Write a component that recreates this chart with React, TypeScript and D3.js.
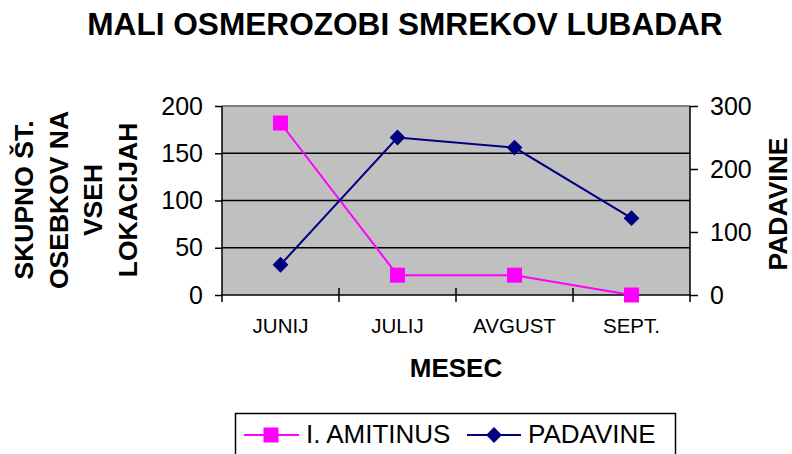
import { useEffect, useRef } from 'react'
import * as d3 from 'd3'

const months = ['JUNIJ', 'JULIJ', 'AVGUST', 'SEPT.']
const amitinus = [182, 21, 21, 0]
const padavine = [48, 250, 234, 122]
const leftTicks = [0, 50, 100, 150, 200]
const rightTicks = [0, 100, 200, 300]
const leftTitle = ['SKUPNO ŠT.', 'OSEBKOV NA', 'VSEH', 'LOKACIJAH']

const FONT = '"Liberation Sans", Arial, sans-serif'

export default function App() {
  const svgRef = useRef<SVGSVGElement>(null)

  useEffect(() => {
    const el = svgRef.current
    if (!el) return
    const svg = d3.select(el)
    svg.selectAll('*').remove()

    const left = 222, right = 690, top = 106, bottom = 295

    const x = d3.scaleBand<string>().domain(months).range([left, right])
    const yL = d3.scaleLinear().domain([0, 200]).range([bottom, top])
    const yR = d3.scaleLinear().domain([0, 300]).range([bottom, top])
    const cx = (m: string) => (x(m) as number) + x.bandwidth() / 2

    // title
    svg.append('text')
      .attr('x', 405).attr('y', 35)
      .attr('text-anchor', 'middle')
      .attr('font-family', FONT).attr('font-weight', 'bold').attr('font-size', 31.6)
      .text('MALI OSMEROZOBI SMREKOV LUBADAR')

    // plot background
    svg.append('rect')
      .attr('x', left).attr('y', top)
      .attr('width', right - left).attr('height', bottom - top)
      .attr('fill', '#c0c0c0')
    svg.append('line')
      .attr('x1', left).attr('x2', right).attr('y1', top).attr('y2', top)
      .attr('stroke', '#808080').attr('stroke-width', 2)

    // gridlines
    svg.append('g').selectAll('line')
      .data(leftTicks.filter(t => t > 0 && t < 200))
      .join('line')
      .attr('x1', left).attr('x2', right)
      .attr('y1', d => yL(d)).attr('y2', d => yL(d))
      .attr('stroke', '#000').attr('stroke-width', 1.3)

    // left axis
    svg.append('g')
      .attr('transform', `translate(${left},0)`)
      .call(d3.axisLeft(yL).tickValues(leftTicks).tickSize(7).tickPadding(12).tickSizeOuter(0))
      .call(ax => ax.select('.domain').remove())
      .call(ax => ax.selectAll('line').attr('stroke-width', 1.5))
      .call(ax => ax.selectAll('text')
        .attr('font-family', FONT).attr('font-size', 25).attr('fill', '#000'))
    svg.append('line')
      .attr('x1', left).attr('x2', left).attr('y1', top).attr('y2', bottom + 7)
      .attr('stroke', '#000').attr('stroke-width', 1.5)

    // right axis
    svg.append('g')
      .attr('transform', `translate(${right},0)`)
      .call(d3.axisRight(yR).tickValues(rightTicks).tickSize(8).tickPadding(12).tickSizeOuter(0))
      .call(ax => ax.select('.domain').remove())
      .call(ax => ax.selectAll('line').attr('stroke-width', 1.5))
      .call(ax => ax.selectAll('text')
        .attr('font-family', FONT).attr('font-size', 25).attr('fill', '#000'))
    svg.append('line')
      .attr('x1', right).attr('x2', right).attr('y1', top).attr('y2', bottom + 7)
      .attr('stroke', '#000').attr('stroke-width', 1.5)

    // bottom axis
    svg.append('line')
      .attr('x1', left).attr('x2', right)
      .attr('y1', bottom).attr('y2', bottom)
      .attr('stroke', '#000').attr('stroke-width', 1.5)
    svg.append('g').selectAll('line')
      .data(months.slice(1))
      .join('line')
      .attr('x1', d => x(d) as number).attr('x2', d => x(d) as number)
      .attr('y1', bottom - 7).attr('y2', bottom + 7)
      .attr('stroke', '#000').attr('stroke-width', 1.5)
    svg.append('g').selectAll('text')
      .data(months)
      .join('text')
      .attr('x', d => cx(d)).attr('y', 333)
      .attr('text-anchor', 'middle')
      .attr('font-family', FONT).attr('font-size', 20.5)
      .text(d => d)

    svg.append('text')
      .attr('x', 456).attr('y', 377)
      .attr('text-anchor', 'middle')
      .attr('font-family', FONT).attr('font-weight', 'bold').attr('font-size', 26)
      .text('MESEC')

    // left axis title
    const lt = svg.append('text')
      .attr('transform', 'translate(0,200) rotate(-90)')
      .attr('text-anchor', 'middle')
      .attr('font-family', FONT).attr('font-weight', 'bold').attr('font-size', 26.5)
    leftTitle.forEach((t, i) => {
      lt.append('tspan').attr('x', 0).attr('y', 33 + i * 34.5).text(t)
    })

    // right axis title
    svg.append('text')
      .attr('transform', 'translate(787,204) rotate(-90)')
      .attr('text-anchor', 'middle')
      .attr('font-family', FONT).attr('font-weight', 'bold').attr('font-size', 26.5)
      .text('PADAVINE')

    // series
    const lineL = d3.line<number>().x((_, i) => cx(months[i])).y(d => yL(d))
    const lineR = d3.line<number>().x((_, i) => cx(months[i])).y(d => yR(d))

    svg.append('path').datum(amitinus)
      .attr('d', lineL).attr('fill', 'none')
      .attr('stroke', '#ff00ff').attr('stroke-width', 2)
    svg.append('path').datum(padavine)
      .attr('d', lineR).attr('fill', 'none')
      .attr('stroke', '#000080').attr('stroke-width', 2)

    svg.append('g').selectAll('rect')
      .data(amitinus)
      .join('rect')
      .attr('x', (_, i) => cx(months[i]) - 7.5).attr('y', d => yL(d) - 7.5)
      .attr('width', 15).attr('height', 15)
      .attr('fill', '#ff00ff')

    const diamond = d3.symbol().type(d3.symbolSquare).size(125)
    svg.append('g').selectAll('path')
      .data(padavine)
      .join('path')
      .attr('d', diamond)
      .attr('transform', (d, i) => `translate(${cx(months[i])},${yR(d)}) rotate(45)`)
      .attr('fill', '#000080')

    // legend
    const lg = svg.append('g')
    lg.append('rect')
      .attr('x', 235.5).attr('y', 413.5)
      .attr('width', 440).attr('height', 50)
      .attr('fill', '#fff').attr('stroke', '#000').attr('stroke-width', 1.5)
    lg.append('line')
      .attr('x1', 244).attr('x2', 299).attr('y1', 435).attr('y2', 435)
      .attr('stroke', '#ff00ff').attr('stroke-width', 2)
    lg.append('rect')
      .attr('x', 263.5).attr('y', 427.5).attr('width', 15).attr('height', 15)
      .attr('fill', '#ff00ff')
    lg.append('text')
      .attr('x', 306).attr('y', 443)
      .attr('font-family', FONT).attr('font-size', 26)
      .text('I. AMITINUS')
    lg.append('line')
      .attr('x1', 467).attr('x2', 521).attr('y1', 435).attr('y2', 435)
      .attr('stroke', '#000080').attr('stroke-width', 2)
    lg.append('path')
      .attr('d', diamond)
      .attr('transform', 'translate(494,435) rotate(45)')
      .attr('fill', '#000080')
    lg.append('text')
      .attr('x', 528).attr('y', 443)
      .attr('font-family', FONT).attr('font-size', 26)
      .text('PADAVINE')
  }, [])

  return (
    <svg
      ref={svgRef}
      width={792}
      height={454}
      style={{ position: 'absolute', left: 0, top: 0, display: 'block', background: '#fff' }}
    />
  )
}
